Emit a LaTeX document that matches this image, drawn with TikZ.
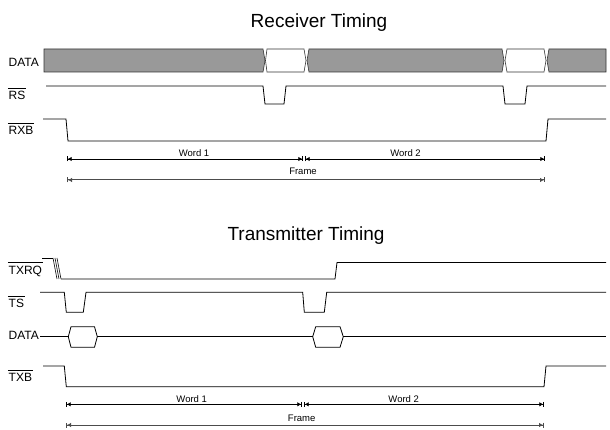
\documentclass[tikz,border=0pt]{standalone}
\usepackage{fontspec}
\setmainfont{Liberation Sans}
\usetikzlibrary{arrows.meta,positioning}
\definecolor{BusGray}{RGB}{153,153,153}
\tikzset{
    wave/.style={draw=black, line width=0.8pt},
    busbox/.style={draw=black!80, fill=BusGray, line width=0.6pt},
    busfree/.style={draw=black!80, fill=white, line width=0.6pt},
    siglabel/.style={anchor=base west, inner sep=0pt, font=\fontsize{12}{14}\selectfont},
    titlelabel/.style={anchor=base, inner sep=0pt, font=\fontsize{19}{22}\selectfont},
    dimlabel/.style={anchor=base, inner sep=0pt, font=\fontsize{9.5}{11}\selectfont}
}
\newcommand{\sigbar}[1]{\leavevmode\vbox{\hrule height 0.7pt\kern 3pt\hbox{\kern0.8pt#1\kern0.8pt}}}

\begin{document}
\begin{tikzpicture}[
                x=1pt, y=-1pt,
                dimline/.style={
                    line width=0.7pt,
                    {Bar[width=5pt]Latex[length=4pt,width=4.5pt]}-{Latex[length=4pt,width=4.5pt]Bar[width=5pt]}
                },
                frameline/.style={dimline, draw=black!70, line width=1pt}
            ]
                \useasboundingbox (0,0) rectangle (610,430);

                % receiver
                \node[titlelabel] (rxtitle) at (319,28) {Receiver Timing};
                \node[siglabel] (rxdata) at (8.5,66.7) {DATA};
                \node[siglabel] (rxrs) at (7.7,100) {\sigbar{RS}};
                \node[siglabel] (rxrxb) at (7.7,135) {\sigbar{RXB}};

                \draw[busbox] (44,49) -- (263,49) -- (265,60.5) -- (263,72) -- (44,72) -- cycle;
                \draw[busfree] (267,49) -- (304,49) -- (306,60.5) -- (304,72) -- (267,72) -- (265.5,60.5) -- cycle;
                \draw[busbox] (309,49) -- (502,49) -- (504,60.5) -- (502,72) -- (309,72) -- (307,60.5) -- cycle;
                \draw[busfree] (507,49) -- (544,49) -- (546,60.5) -- (544,72) -- (507,72) -- (505,60.5) -- cycle;
                \draw[busbox] (549,49) -- (606,49) -- (606,72) -- (549,72) -- (547,60.5) -- cycle;

                \draw[wave] (46,86) -- (263,86) -- (265,104) -- (284,104) -- (286,86)
                    -- (503,86) -- (505,104) -- (525,104) -- (527,86) -- (606,86);
                \draw[wave] (43,119) -- (66,119) -- (68,141) -- (546,141) -- (548,119) -- (606,119);

                \draw[dimline] (67,159) -- (303,159);
                \draw[dimline] (305,159) -- (545,159);
                \draw[frameline] (67,180) -- (545,180);
                \node[dimlabel] (rxword1) at (194,156.7) {Word 1};
                \node[dimlabel] (rxword2) at (405.5,156.7) {Word 2};
                \node[dimlabel] (rxframe) at (303,175) {Frame};

                % transmitter
                \node[titlelabel] (txtitle) at (306,241) {Transmitter Timing};
                \node[siglabel] (txtxrq) at (7.7,274) {\sigbar{TXRQ}};
                \node[siglabel] (txts) at (7.7,307.7) {\sigbar{TS}};
                \node[siglabel] (txdata) at (8.5,339.3) {DATA};
                \node[siglabel] (txtxb) at (7.7,381.7) {\sigbar{TXB}};

                \draw[wave] (42,258) -- (53,258);
                \foreach \dx in {0,2,4}
                    \draw[wave, line width=0.6pt] (53+\dx,258) -- (57+\dx,279);
                \draw[wave] (61,279) -- (335,279) -- (337,262.5) -- (606,262.5);

                \draw[wave] (40,292.3) -- (64.3,292.3) -- (66.3,312.3) -- (83.3,312.3) -- (86,292.3)
                    -- (302.7,292.3) -- (304.3,312.3) -- (324.3,312.3) -- (326.7,292.3) -- (606,292.3);

                \draw[wave] (40,336.7) -- (68.3,336.7);
                \draw[wave] (68.3,336.7) -- (71,326.7) -- (94.5,326.7) -- (97.3,336.7) -- (94.5,347.3) -- (71,347.3) -- cycle;
                \draw[wave] (97.3,336.7) -- (312.7,336.7);
                \draw[wave] (312.7,336.7) -- (315.7,326.7) -- (340,326.7) -- (343.3,336.7) -- (340,347.3) -- (315.7,347.3) -- cycle;
                \draw[wave] (343.3,336.7) -- (606,336.7);

                \draw[wave] (43,366) -- (64.3,366) -- (66.3,386.7) -- (544,386.7) -- (546,366) -- (606,366);

                \draw[dimline] (66,404.3) -- (302,404.3);
                \draw[dimline] (304,404.3) -- (544,404.3);
                \draw[frameline] (66,425) -- (544,425);
                \node[dimlabel] (txword1) at (191.7,402.3) {Word 1};
                \node[dimlabel] (txword2) at (403.7,402.3) {Word 2};
                \node[dimlabel] (txframe) at (301.7,421.7) {Frame};
            \end{tikzpicture}
\end{document}
